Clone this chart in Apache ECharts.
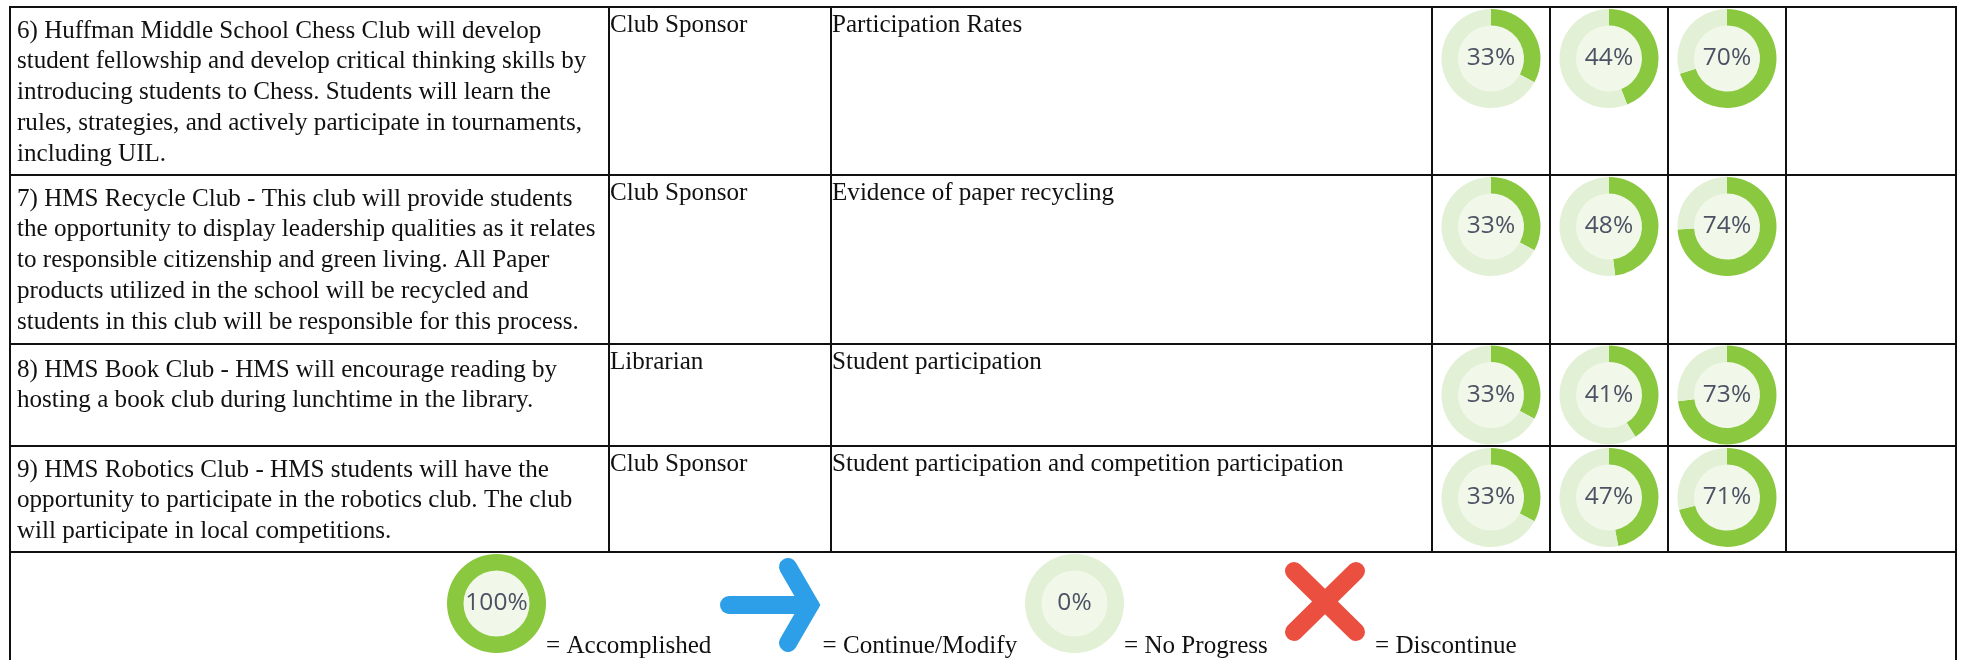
<!DOCTYPE html>
<html>
<head>
<meta charset="utf-8">
<title>Club progress table</title>
<style>
    html, body { margin: 0; padding: 0; background: #fff; }
    #chart { width: 1965px; height: 660px; }
</style>
<script src="https://cdn.jsdelivr.net/npm/echarts@6/dist/echarts.min.js"></script>
</head>
<body>
<div id="chart"></div>
<script>
// table content
var goalLines = [
    ['6) Huffman Middle School Chess Club will develop', 'student fellowship and develop critical thinking skills by', 'introducing students to Chess. Students will learn the', 'rules, strategies, and actively participate in tournaments,', 'including UIL.'],
    ['7) HMS Recycle Club - This club will provide students', 'the opportunity to display leadership qualities as it relates', 'to responsible citizenship and green living. All Paper', 'products utilized in the school will be recycled and', 'students in this club will be responsible for this process.'],
    ['8) HMS Book Club - HMS will encourage reading by', 'hosting a book club during lunchtime in the library.'],
    ['9) HMS Robotics Club - HMS students will have the', 'opportunity to participate in the robotics club. The club', 'will participate in local competitions.']
];
var owners = ['Club Sponsor', 'Club Sponsor', 'Librarian', 'Club Sponsor'];
var measures = ['Participation Rates', 'Evidence of paper recycling', 'Student participation', 'Student participation and competition participation'];

// progress per row, one value per review column
var firstReview = [33, 33, 33, 33];
var secondReview = [44, 48, 41, 47];
var thirdReview = [70, 74, 73, 71];

// legend
var legendRingValues = [100, 0];
var legendLabels = ['= Accomplished', '= Continue/Modify', '= No Progress', '= Discontinue'];

// layout, in pixels
var rowLines = [7, 175, 344, 446, 552];
var colLines = [10, 609, 831, 1432, 1550, 1668, 1786, 1956];
var ringColumns = [1491, 1609, 1727];
var ringRows = [58.5, 226.5, 395, 497.5];
var legendRingColumns = [496.5, 1074.5];
var legendRingRow = 603.5;
var legendLabelColumns = [546, 822.5, 1124, 1375];
var legendLabelRow = 646.5;
var lineFirstOffset = [24, 24, 26, 24];
var linePitch = 30.8;

var GREEN = '#8ac83f';
var TRACK = '#e2f0d5';
var DISC = '#f1f8ea';
var SERIF = '"Liberation Serif", "Times New Roman", serif';

function ringSeries(value, x, y) {
    var list = [];
    // pale disc behind the number
    list.push({
        type: 'pie',
        silent: true,
        animation: false,
        center: [x, y],
        radius: [0, 34],
        label: { show: false },
        labelLine: { show: false },
        itemStyle: { color: DISC },
        data: [{ value: 1 }]
    });
    list.push({
        type: 'pie',
        silent: true,
        animation: false,
        center: [x, y],
        radius: [33, 49.5],
        startAngle: 90,
        clockwise: true,
        stillShowZeroSum: true,
        avoidLabelOverlap: false,
        labelLine: { show: false },
        data: [
            {
                value: value,
                itemStyle: { color: GREEN },
                label: {
                    show: true,
                    position: 'center',
                    formatter: value + '%',
                    fontFamily: '"Open Sans", sans-serif',
                    fontSize: 24.5,
                    color: '#4c5163'
                }
            },
            { value: 100 - value, itemStyle: { color: TRACK }, label: { show: false } }
        ]
    });
    return list;
}

function textItem(str, x, y) {
    return {
        type: 'text',
        silent: true,
        x: x,
        y: y,
        style: {
            text: str,
            fontFamily: SERIF,
            fontSize: 25.1,
            fill: '#111',
            verticalAlign: 'middle',
            align: 'left'
        }
    };
}

function lineItem(x1, y1, x2, y2) {
    return {
        type: 'line',
        silent: true,
        shape: { x1: x1, y1: y1, x2: x2, y2: y2 },
        style: { stroke: '#111', lineWidth: 2 }
    };
}

function iconStroke(points, color) {
    return {
        type: 'polyline',
        silent: true,
        shape: { points: points },
        style: { stroke: color, lineWidth: 18, lineCap: 'round', lineJoin: 'miter', fill: null }
    };
}

var series = [];
var graphics = [];
var i, j;

// grid lines
var tableLeft = colLines[0];
var tableRight = colLines[colLines.length - 1];
for (i = 0; i < rowLines.length; i++) {
    graphics.push(lineItem(tableLeft - 1, rowLines[i], tableRight + 1, rowLines[i]));
}
for (j = 1; j < colLines.length - 1; j++) {
    graphics.push(lineItem(colLines[j], rowLines[0], colLines[j], rowLines[rowLines.length - 1]));
}
graphics.push(lineItem(tableLeft, rowLines[0], tableLeft, 660));
graphics.push(lineItem(tableRight, rowLines[0], tableRight, 660));

// cell text
for (i = 0; i < goalLines.length; i++) {
    for (j = 0; j < goalLines[i].length; j++) {
        graphics.push(textItem(goalLines[i][j], 17, rowLines[i] + lineFirstOffset[i] + j * linePitch));
    }
    graphics.push(textItem(owners[i], 610, rowLines[i] + 18.5));
    graphics.push(textItem(measures[i], 832, rowLines[i] + 18.5));
}

// progress rings
for (i = 0; i < ringRows.length; i++) {
    series = series.concat(ringSeries(firstReview[i], ringColumns[0], ringRows[i]));
    series = series.concat(ringSeries(secondReview[i], ringColumns[1], ringRows[i]));
    series = series.concat(ringSeries(thirdReview[i], ringColumns[2], ringRows[i]));
}

// legend row
for (i = 0; i < legendRingValues.length; i++) {
    series = series.concat(ringSeries(legendRingValues[i], legendRingColumns[i], legendRingRow));
}
for (i = 0; i < legendLabels.length; i++) {
    graphics.push(textItem(legendLabels[i], legendLabelColumns[i], legendLabelRow));
}

// continue arrow
graphics.push(iconStroke([[729, 605], [810, 605]], '#2d9ee8'));
graphics.push(iconStroke([[788, 567], [810, 605], [788, 643]], '#2d9ee8'));
// discontinue cross
graphics.push(iconStroke([[1294, 571], [1356, 632]], '#eb4f3f'));
graphics.push(iconStroke([[1356, 571], [1294, 632]], '#eb4f3f'));

var chart = echarts.init(document.getElementById('chart'), null, { renderer: 'canvas' });
chart.setOption({
    animation: false,
    backgroundColor: '#fff',
    series: series,
    graphic: { elements: graphics }
});
</script>
</body>
</html>
